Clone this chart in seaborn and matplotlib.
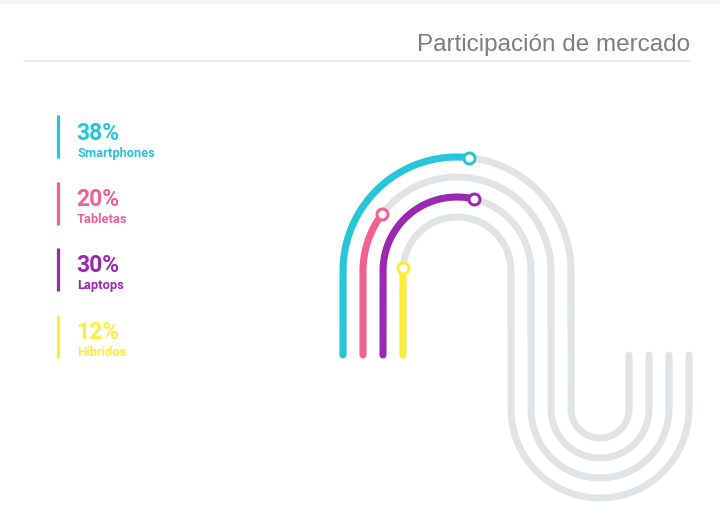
import numpy as np
import pandas as pd
import matplotlib
matplotlib.use("Agg")
import matplotlib.pyplot as plt
import seaborn as sns

# ---- data ----
categories = ["Smartphones", "Tabletas", "Laptops", "Híbridos"]
shares = [38, 20, 30, 12]
share_labels = ["38%", "20%", "30%", "12%"]
colors = ["#26C6DA", "#F06292", "#9C27B0", "#FFEB3B"]
title = "Participación de mercado"

sns.set_theme(style="white")
plt.rcParams["font.family"] = ["Roboto", "DejaVu Sans"]

W, H = 720, 518
fig = plt.figure(figsize=(7.2, 5.18), dpi=100)
ax = fig.add_axes([0, 0, 1, 1])
ax.set_xlim(0, W)
ax.set_ylim(H, 0)
ax.axis("off")

px = 72 / 100  # points per pixel

# ---- track geometry (layout) ----
CX_UP, CY_UP = 457, 271
CX_LO, CY_LO = 600, 409
Y_END = 355
R_OUT = 114
GAP = 20


def lane_path(i):
    r_up = R_OUT - GAP * i
    r_lo = (CX_LO - CX_UP) - r_up
    xl, xr = CX_UP - r_up, CX_UP + r_up
    segs = []
    segs.append(np.column_stack([np.full(30, xl), np.linspace(Y_END, CY_UP, 30)]))
    t = np.linspace(0, np.pi, 300)
    segs.append(np.column_stack([CX_UP - r_up * np.cos(t), CY_UP - r_up * np.sin(t)]))
    segs.append(np.column_stack([np.full(30, xr), np.linspace(CY_UP, CY_LO, 30)]))
    t = np.linspace(0, np.pi, 200)
    segs.append(np.column_stack([CX_LO - r_lo * np.cos(t), CY_LO + r_lo * np.sin(t)]))
    segs.append(np.column_stack([np.full(30, CX_LO + r_lo), np.linspace(CY_LO, Y_END, 30)]))
    return np.vstack(segs)


def cut_path(pts, frac):
    d = np.r_[0, np.cumsum(np.hypot(*np.diff(pts, axis=0).T))]
    L = d[-1] * frac
    k = np.searchsorted(d, L)
    k = max(1, min(k, len(d) - 1))
    f = (L - d[k - 1]) / (d[k] - d[k - 1])
    end = pts[k - 1] + f * (pts[k] - pts[k - 1])
    return np.vstack([pts[:k], end])


lw = 7 * px
for i in range(len(categories)):
    pts = lane_path(i)
    df = pd.DataFrame({"x": pts[:, 0], "y": pts[:, 1]})
    sns.lineplot(data=df, x="x", y="y", sort=False, estimator=None, ax=ax,
                 color="#E2E3E4", linewidth=lw, solid_capstyle="round", zorder=1)

for i in range(len(categories)):
    pts = cut_path(lane_path(i), shares[i] / 100)
    df = pd.DataFrame({"x": pts[:, 0], "y": pts[:, 1]})
    sns.lineplot(data=df, x="x", y="y", sort=False, estimator=None, ax=ax,
                 color=colors[i], linewidth=lw, solid_capstyle="round", zorder=2)
    end = pd.DataFrame({"x": [pts[-1, 0]], "y": [pts[-1, 1]]})
    sns.scatterplot(data=end, x="x", y="y", ax=ax, s=(11 * px) ** 2,
                    facecolor="white", edgecolor=colors[i], linewidth=3.0 * px, zorder=3)

# ---- legend ----
for i, (lab, pct, c) in enumerate(zip(categories, share_labels, colors)):
    y0 = 115 + 66.5 * i
    ax.plot([58, 58], [y0, y0 + 43], color=c, linewidth=3.2 * px, solid_capstyle="butt")
    ax.text(76, y0 + 18, pct, color=c, fontsize=16.5, fontweight="bold",
            ha="left", va="center")
    ax.text(77, y0 + 38, lab, color=c, fontsize=9.3, fontweight="bold",
            ha="left", va="center")

# ---- title ----
ax.text(690, 45, title, color="#7B7F84", fontsize=17.5, fontweight="normal",
        family=["Liberation Sans", "DejaVu Sans"], ha="right", va="center")
ax.plot([24, 690], [61, 61], color="#E6E7E8", linewidth=1.6 * px)
ax.axhspan(0, 3, color="#F5F5F5", zorder=0)

ax.set_xlim(0, W)
ax.set_ylim(H, 0)
fig.savefig("out.png", dpi=100)
